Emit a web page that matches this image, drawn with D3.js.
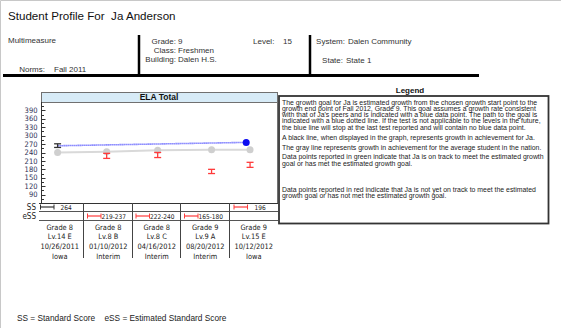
<!DOCTYPE html>
<html>
<head>
<meta charset="utf-8">
<title>Student Profile</title>
<script src="https://d3js.org/d3.v7.min.js"></script>
<style>
  body { margin: 0; background: #fff; }
  text { font-family: "Liberation Sans", Arial, sans-serif; white-space: pre; }
  .cell { font-family: "DejaVu Sans Condensed", "DejaVu Sans", sans-serif; }
</style>
</head>
<body>
<div id="chart"></div>
<script>

var grades   = ["Grade 8", "Grade 8", "Grade 8", "Grade 9", "Grade 9"];
var levels   = ["Lv.14 E", "Lv.8 B", "Lv.8 C", "Lv.9 A", "Lv.15 E"];
var dates    = ["10/26/2011", "01/10/2012", "04/16/2012", "08/20/2012", "10/12/2012"];
var sources  = ["Iowa", "Interim", "Interim", "Interim", "Iowa"];
// time of each test in grade units (grade + fraction of school year)
var gradeTime = [8.2, 8.455, 8.72, 9.0, 9.2];
var nationalAvg = [240, 243, 248, 250, 250];
var ssScores  = [264, null, null, null, 196];
var ssRanges  = [[258, 271], null, null, null, [187, 205]];
var essRanges = [null, [219, 237], [222, 240], [165, 180], null];
var pointColor = ["#333333", "#ff3b3b", "#ff3b3b", "#ff3b3b", "#ff3b3b"];
var goalTime = 9.18, goalScore = 276;
var yTicks = d3.range(90, 391, 30);

var legendParas = [
  ["The growth goal for Ja is estimated growth from the chosen growth start point to the",
   "growth end point of Fall 2012, Grade 9. This goal assumes a growth rate consistent",
   "with that of Ja's peers and is indicated with a blue data point. The path to the goal is",
   "indicated with a blue dotted line. If the test is not applicable to the levels in the future,",
   "the blue line will stop at the last test reported and will contain no blue data point."],
  ["A black line, when displayed in the graph, represents growth in achievement for Ja."],
  ["The gray line represents growth in achievement for the average student in the nation."],
  ["Data points reported in green indicate that Ja is on track to meet the estimated growth",
   "goal or has met the estimated growth goal."],
  ["Data points reported in red indicate that Ja is not yet on track to meet the estimated",
   "growth goal or has not met the estimated growth goal."]
];

var W = 561, H = 328;
var svg = d3.select("#chart").append("svg")
  .attr("width", W).attr("height", H);

// page frame (top + left only)
svg.append("path").attr("d", "M0.5,328V0.5H561").attr("fill", "none")
  .attr("stroke", "#c8c8c8");

// title + header
svg.append("text").attr("x", 8).attr("y", 20).text("Student Profile For  Ja Anderson")
  .style("font-size", "11.6px").attr("fill", "#111");

var hdr = svg.append("g").style("font-size", "8px").attr("fill", "#333");
hdr.append("text").attr("x", 8).attr("y", 43).text("Multimeasure");
hdr.append("text").attr("x", 45).attr("y", 72).attr("text-anchor", "end").text("Norms:");
hdr.append("text").attr("x", 54).attr("y", 72).text("Fall 2011");
[["Grade:", "9", 44], ["Class:", "Freshmen", 53], ["Building:", "Dalen H.S.", 62]].forEach(function(r) {
  hdr.append("text").attr("x", 176).attr("y", r[2]).attr("text-anchor", "end").text(r[0]);
  hdr.append("text").attr("x", 178).attr("y", r[2]).text(r[1]);
});
hdr.append("text").attr("x", 253).attr("y", 44).text("Level:");
hdr.append("text").attr("x", 283).attr("y", 44).text("15");
hdr.append("text").attr("x", 345).attr("y", 44).attr("text-anchor", "end").text("System:");
hdr.append("text").attr("x", 348).attr("y", 44).text("Dalen Community");
hdr.append("text").attr("x", 343).attr("y", 63).attr("text-anchor", "end").text("State:");
hdr.append("text").attr("x", 346).attr("y", 63).text("State 1");

svg.append("line").attr("x1", 3).attr("x2", 479).attr("y1", 75.5).attr("y2", 75.5)
  .attr("stroke", "#000").attr("stroke-width", 3);
[139, 310].forEach(function(x) {
  svg.append("line").attr("x1", x).attr("x2", x).attr("y1", 35).attr("y2", 75)
    .attr("stroke", "#000").attr("stroke-width", 2.5);
});

// ---- chart panel ----
var panelL = 41, panelR = 277, panelT = 92, headB = 102, plotB = 203;
var tableL = 34.5;
var ssB = 211, essB = 220, tableB = 258;

var x = d3.scaleLinear().domain([8.08, 9.34]).range([tableL, panelR]);
var y = d3.scaleLinear().domain([60, 420]).range([plotB, headB]);
var col = d3.scaleBand().domain(d3.range(5)).range([tableL, panelR]);

svg.append("rect").attr("x", panelL + 0.5).attr("y", panelT + 0.5)
  .attr("width", panelR - panelL).attr("height", headB - panelT)
  .attr("fill", "#d7ebf7").attr("stroke", "#707070");
svg.append("text").attr("x", (panelL + panelR) / 2).attr("y", 100)
  .attr("text-anchor", "middle").style("font-size", "8.5px").style("font-weight", "bold")
  .attr("fill", "#111").text("ELA Total");
svg.append("line").attr("x1", panelR + 0.5).attr("x2", panelR + 0.5)
  .attr("y1", headB).attr("y2", plotB).attr("stroke", "#707070");

// y axis, ticks pointing inward
var yAxis = svg.append("g").attr("transform", "translate(" + (panelL + 0.5) + ",0)");
yAxis.append("line").attr("y1", headB).attr("y2", plotB).attr("stroke", "#333");
yAxis.selectAll("line.minor").data(d3.range(75, 406, 15)).enter().append("line")
  .attr("class", "minor")
  .attr("x1", 0).attr("x2", function(d) { return d % 30 === 0 ? 4 : 2.5; })
  .attr("y1", function(d) { return Math.round(y(d)) + 0.5; })
  .attr("y2", function(d) { return Math.round(y(d)) + 0.5; })
  .attr("stroke", "#333");
yAxis.selectAll("text").data(yTicks).enter().append("text")
  .attr("class", "cell")
  .attr("x", -4).attr("y", function(d) { return y(d); }).attr("dy", "0.35em")
  .attr("text-anchor", "end").style("font-size", "7.5px").attr("fill", "#2f2f55")
  .text(function(d) { return d; });

// national average (gray)
var avgPts = gradeTime.map(function(t, i) { return [x(t), y(nationalAvg[i])]; });
svg.append("path").attr("d", d3.line()(avgPts)).attr("fill", "none")
  .attr("stroke", "#d9d9d9").attr("stroke-width", 2);
svg.selectAll("circle.avg").data(avgPts).enter().append("circle").attr("class", "avg")
  .attr("cx", function(d) { return d[0]; }).attr("cy", function(d) { return d[1]; })
  .attr("r", 3.5).attr("fill", "#cfcfcf");

// growth path to goal (blue dotted)
svg.append("line")
  .attr("x1", x(gradeTime[0])).attr("y1", y(ssScores[0]))
  .attr("x2", x(goalTime)).attr("y2", y(goalScore))
  .attr("stroke", "#3a3aff").attr("stroke-width", 1.6).attr("stroke-dasharray", "1,1");
svg.append("circle").attr("cx", x(goalTime)).attr("cy", y(goalScore)).attr("r", 3.5)
  .attr("fill", "#0a0af0");

// error bars (SS ranges and eSS ranges)
var bars = gradeTime.map(function(t, i) {
  return { t: t, r: ssRanges[i] || essRanges[i], c: pointColor[i] };
});
var eb = svg.selectAll("g.eb").data(bars).enter().append("g").attr("class", "eb")
  .attr("stroke", function(d) { return d.c; }).attr("stroke-width", 1.3);
eb.append("line").attr("x1", function(d) { return x(d.t); }).attr("x2", function(d) { return x(d.t); })
  .attr("y1", function(d) { return y(d.r[0]); }).attr("y2", function(d) { return y(d.r[1]); });
[0, 1].forEach(function(k) {
  eb.append("line")
    .attr("x1", function(d) { return x(d.t) - 3.5; }).attr("x2", function(d) { return x(d.t) + 3.5; })
    .attr("y1", function(d) { return y(d.r[k]); }).attr("y2", function(d) { return y(d.r[k]); });
});

// ---- score table ----
[plotB, ssB, essB].forEach(function(yy, i) {
  svg.append("line").attr("x1", 39).attr("x2", 278).attr("y1", yy + 0.5).attr("y2", yy + 0.5)
    .attr("stroke", i === 0 ? "#333" : "#555");
});
d3.range(1, 5).forEach(function(i) {
  var xx = Math.round(col(i)) + 0.5;
  svg.append("line").attr("x1", xx).attr("x2", xx).attr("y1", plotB).attr("y2", tableB)
    .attr("stroke", "#444");
});
svg.append("text").attr("class", "cell").attr("x", 36).attr("y", 210).attr("text-anchor", "end")
  .style("font-size", "8px").attr("fill", "#222").text("SS");
svg.append("text").attr("class", "cell").attr("x", 36).attr("y", 219).attr("text-anchor", "end")
  .style("font-size", "8px").attr("fill", "#222").text("eSS");

function rangeMark(g, x0, yy, c) {
  g.append("line").attr("x1", x0).attr("x2", x0 + 13.5).attr("y1", yy).attr("y2", yy)
    .attr("stroke", c).attr("stroke-width", 1.2);
  [x0, x0 + 13.5].forEach(function(xx) {
    g.append("line").attr("x1", xx).attr("x2", xx).attr("y1", yy - 2.5).attr("y2", yy + 2.5)
      .attr("stroke", c).attr("stroke-width", 1);
  });
}
var tbl = svg.append("g");
ssScores.forEach(function(s, i) {
  if (s === null) return;
  var x0 = col(i) + 5.5;
  rangeMark(tbl, Math.max(x0, 40.5), 207, pointColor[i]);
  tbl.append("text").attr("class", "cell").attr("x", col(i) + 26).attr("y", 209.5)
    .style("font-size", "6.5px").attr("fill", "#222").text(s);
});
essRanges.forEach(function(r, i) {
  if (r === null) return;
  var x0 = col(i) + 4.5;
  rangeMark(tbl, x0, 216, pointColor[i]);
  tbl.append("text").attr("class", "cell").attr("x", x0 + 14).attr("y", 218.5)
    .style("font-size", "6.5px").attr("fill", "#222").text(r[0] + "-" + r[1]);
});

[grades, levels, dates, sources].forEach(function(arr, row) {
  tbl.selectAll(null).data(arr).enter().append("text").attr("class", "cell")
    .attr("x", function(d, i) { return col(i) + col.bandwidth() / 2 + 1; })
    .attr("y", 229.8 + row * 9.6).attr("text-anchor", "middle")
    .style("font-size", "7.4px").attr("fill", "#222")
    .text(function(d) { return d; });
});

// ---- legend ----
svg.append("text").attr("x", 410).attr("y", 92.5).attr("text-anchor", "middle")
  .style("font-size", "8px").style("font-weight", "bold").attr("fill", "#111").text("Legend");
svg.append("rect").attr("x", 279).attr("y", 96).attr("width", 269.5).attr("height", 127.5)
  .attr("fill", "#fff").attr("stroke", "#333").attr("stroke-width", 1.8);
var ly = 104.5;
var lg = svg.append("g").style("font-size", "6.9px").attr("fill", "#222");
legendParas.forEach(function(p, pi) {
  if (pi === 4) ly += 16;
  p.forEach(function(line) {
    lg.append("text").attr("x", 282).attr("y", ly).text(line);
    ly += 6.3;
  });
  ly += 3.6;
});

// footer
svg.append("text").attr("x", 17).attr("y", 321).style("font-size", "8.3px").attr("fill", "#222")
  .text("SS = Standard Score    eSS = Estimated Standard Score");

</script>
</body>
</html>
